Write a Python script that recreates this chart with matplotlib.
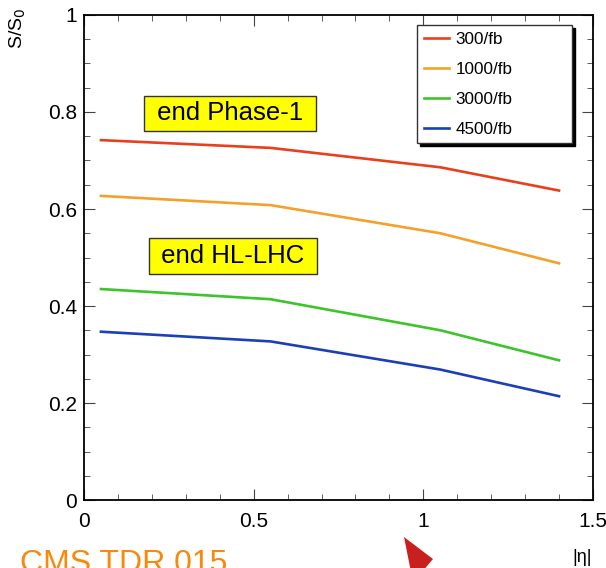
import matplotlib
matplotlib.use("Agg")
import matplotlib.pyplot as plt
from matplotlib.ticker import MultipleLocator

# |eta| points and S/S0 per integrated luminosity
eta = [0.05, 0.55, 1.05, 1.4]
lumi_labels = ["300/fb", "1000/fb", "3000/fb", "4500/fb"]
s_300 = [0.742, 0.726, 0.686, 0.638]
s_1000 = [0.627, 0.608, 0.550, 0.488]
s_3000 = [0.435, 0.414, 0.350, 0.288]
s_4500 = [0.347, 0.327, 0.269, 0.214]
colors = ["#e8401c", "#f5a02a", "#3cc42a", "#1c3fb8"]

plt.rcParams["font.family"] = ["Liberation Sans", "DejaVu Sans"]

fig = plt.figure(figsize=(6.06, 5.68), dpi=100)
ax = fig.add_axes([0.1386, 0.1197, 0.8399, 0.8539])

for vals, lab, c in zip([s_300, s_1000, s_3000, s_4500], lumi_labels, colors):
    ax.plot(eta, vals, color=c, lw=1.9, label=lab)

ax.set_xlim(0, 1.5)
ax.set_ylim(0, 1)
ax.xaxis.set_minor_locator(MultipleLocator(0.1))
ax.yaxis.set_minor_locator(MultipleLocator(0.05))
ax.set_xticks([0, 0.5, 1, 1.5], ["0", "0.5", "1", "1.5"])
ax.set_yticks([0, 0.2, 0.4, 0.6, 0.8, 1], ["0", "0.2", "0.4", "0.6", "0.8", "1"])
ax.tick_params(which="both", direction="in", top=True, right=True, labelsize=15,
               color="#444444", pad=5)
ax.tick_params(axis="x", which="both", pad=8.5)
ax.tick_params(which="major", length=8)
ax.tick_params(which="minor", length=4)
for s in ax.spines.values():
    s.set_linewidth(1.3)

# ROOT-style fixed-size legend box with solid shadow
leg = ax.legend(loc="upper left", bbox_to_anchor=(0.654, 0.979, 0.3045, 0.0),
                mode="expand", borderaxespad=0, fontsize=12.3,
                fancybox=False, edgecolor="#333333", framealpha=1,
                shadow={"color": "black", "alpha": 1}, handlelength=1.5,
                handletextpad=0.35, borderpad=0.4, labelspacing=0.87)
leg.get_frame().set_linewidth(1.0)

box = dict(boxstyle="square,pad=0.22", facecolor="#ffff00", edgecolor="#333333", lw=1)
ax.text(0.4307, 0.797, " end Phase-1 ", fontsize=18.5, ha="center", va="center", bbox=box)
ax.text(0.4395, 0.503, " end HL-LHC ", fontsize=18.5, ha="center", va="center", bbox=box)

fig.text(0.013, 1 - 8 / 568, "S/S$_0$", rotation=90, ha="left", va="top", fontsize=14)
fig.text(582 / 606, 1 - 557 / 568, "|\u03b7|", ha="center", va="center", fontsize=13)
fig.text(20 / 606, 1 - 549 / 568, "CMS TDR 015", color="#f58a0c", fontsize=23,
         ha="left", va="top")

fig.patches.append(plt.Polygon([(404 / 606, 1 - 537 / 568), (433 / 606, 1 - 559 / 568),
                                (422 / 606, 1 - 572 / 568), (411 / 606, 1 - 572 / 568)],
                               closed=True, transform=fig.transFigure,
                               facecolor="#c8201e", edgecolor="none"))

fig.savefig("out.png", dpi=100)
